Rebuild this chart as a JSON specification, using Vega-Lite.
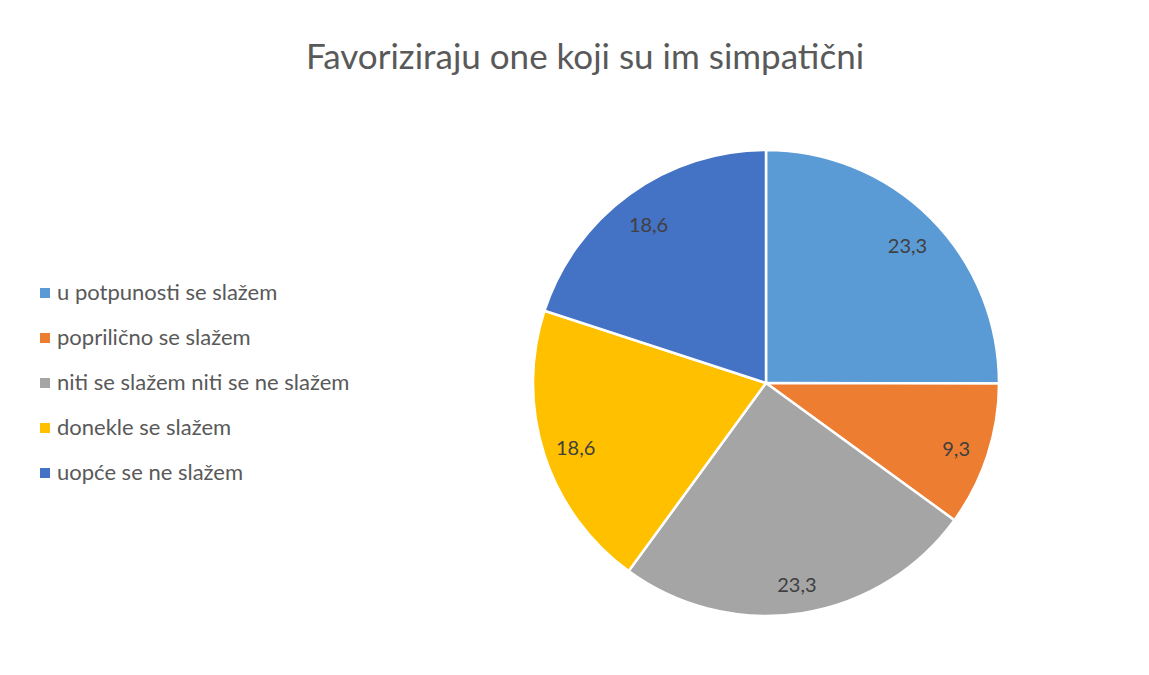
{
  "$schema": "https://vega.github.io/schema/vega-lite/v6.json",
  "width": 766,
  "height": 584,
  "autosize": {"type": "none"},
  "padding": {"left": 383, "top": 91, "right": 0, "bottom": 0},
  "background": "white",
  "title": {
    "text": "Favoriziraju one koji su im simpatični",
    "anchor": "middle",
    "frame": "group",
    "dx": -181,
    "offset": 15,
    "fontSize": 35,
    "fontWeight": "normal",
    "font": "Lato",
    "color": "#595959"
  },
  "config": {
    "view": {"stroke": null},
    "locale": {"number": {"decimal": ",", "thousands": ".", "grouping": [3], "currency": ["", " €"]}}
  },
  "data": {
    "values": [
      {"i": 1, "kategorija": "u potpunosti se slažem", "vrijednost": 23.3},
      {"i": 2, "kategorija": "poprilično se slažem", "vrijednost": 9.3},
      {"i": 3, "kategorija": "niti se slažem niti se ne slažem", "vrijednost": 23.3},
      {"i": 4, "kategorija": "donekle se slažem", "vrijednost": 18.6},
      {"i": 5, "kategorija": "uopće se ne slažem", "vrijednost": 18.6}
    ]
  },
  "encoding": {
    "theta": {"field": "vrijednost", "type": "quantitative", "stack": true},
    "order": {"field": "i", "type": "quantitative"},
    "color": {
      "field": "kategorija",
      "type": "nominal",
      "sort": null,
      "scale": {
        "domain": ["u potpunosti se slažem", "poprilično se slažem", "niti se slažem niti se ne slažem", "donekle se slažem", "uopće se ne slažem"],
        "range": ["#5B9BD5", "#ED7D31", "#A5A5A5", "#FFC000", "#4472C4"]
      },
      "legend": {
        "title": null,
        "orient": "none",
        "legendX": -349,
        "legendY": 191,
        "symbolType": "square",
        "symbolSize": 100,
        "symbolStrokeWidth": 0,
        "labelFontSize": 22,
        "labelFont": "Lato",
        "labelColor": "#595959",
        "labelOffset": 1,
        "rowPadding": 23,
        "labelLimit": 400
      }
    }
  },
  "layer": [
    {
      "mark": {"type": "arc", "outerRadius": 233, "stroke": "white", "strokeWidth": 2.5}
    },
    {
      "mark": {"type": "text", "radius": 200, "dy": 5, "fontSize": 20, "font": "Lato"},
      "encoding": {
        "text": {"field": "vrijednost", "type": "quantitative", "format": ".1f"},
        "color": {"value": "#404040"}
      }
    }
  ]
}
